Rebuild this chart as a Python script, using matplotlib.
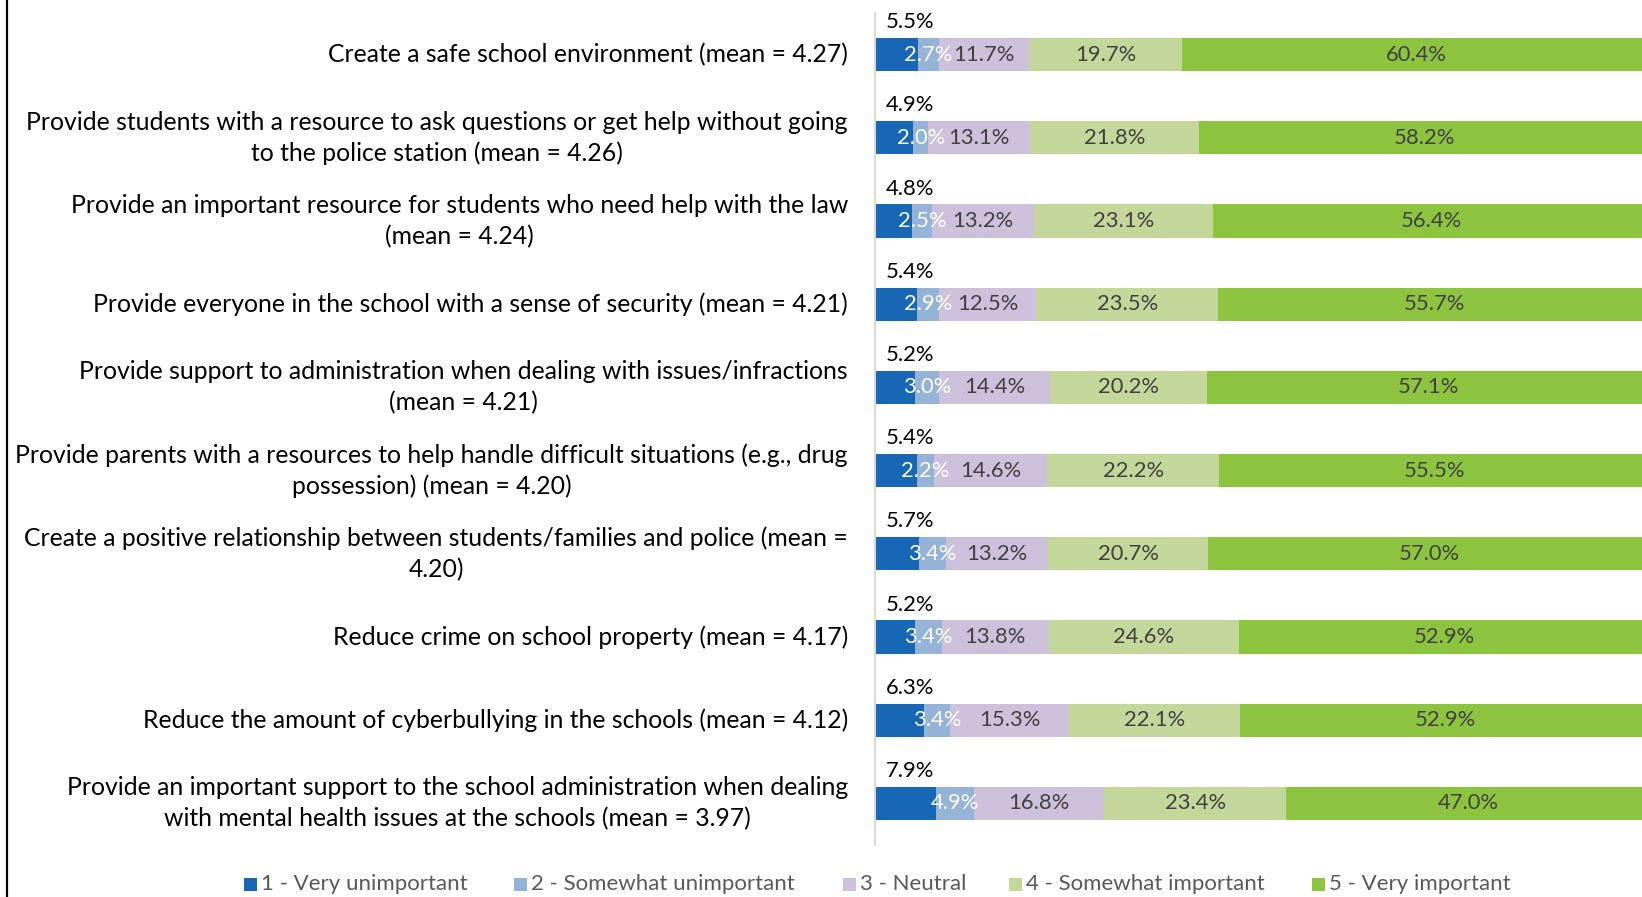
import matplotlib
matplotlib.use("Agg")
import matplotlib.pyplot as plt
from matplotlib.patches import Rectangle
from matplotlib.lines import Line2D

plt.rcParams['font.family'] = ['Lato', 'DejaVu Sans']

categories = [
    "Create a safe school environment (mean = 4.27)",
    "Provide students with a resource to ask questions or get help without going\nto the police station (mean = 4.26)",
    "Provide an important resource for students who need help with the law\n(mean = 4.24)",
    "Provide everyone in the school with a sense of security (mean = 4.21)",
    "Provide support to administration when dealing with issues/infractions\n(mean = 4.21)",
    "Provide parents with a resources to help handle difficult situations (e.g., drug\npossession) (mean = 4.20)",
    "Create a positive relationship between students/families and police (mean =\n4.20)",
    "Reduce crime on school property (mean = 4.17)",
    "Reduce the amount of cyberbullying in the schools (mean = 4.12)",
    "Provide an important support to the school administration when dealing\nwith mental health issues at the schools (mean = 3.97)",
]

very_unimportant = [5.5, 4.9, 4.8, 5.4, 5.2, 5.4, 5.7, 5.2, 6.3, 7.9]
somewhat_unimportant = [2.7, 2.0, 2.5, 2.9, 3.0, 2.2, 3.4, 3.4, 3.4, 4.9]
neutral = [11.7, 13.1, 13.2, 12.5, 14.4, 14.6, 13.2, 13.8, 15.3, 16.8]
somewhat_important = [19.7, 21.8, 23.1, 23.5, 20.2, 22.2, 20.7, 24.6, 22.1, 23.4]
very_important = [60.4, 58.2, 56.4, 55.7, 57.1, 55.5, 57.0, 52.9, 52.9, 47.0]

series_names = ["1 - Very unimportant", "2 - Somewhat unimportant", "3 - Neutral",
                "4 - Somewhat important", "5 - Very important"]
series = [very_unimportant, somewhat_unimportant, neutral, somewhat_important, very_important]
colors = ["#1767B4", "#95B3D7", "#CCC0DA", "#C4D79B", "#8CC43F"]

W, H = 1642, 897
fig = plt.figure(figsize=(W / 100, H / 100), dpi=100)
ax_left, ax_right, ax_top, ax_bottom = 875, 1642, 13, 845
ax = fig.add_axes([ax_left / W, 1 - ax_bottom / H, (ax_right - ax_left) / W, (ax_bottom - ax_top) / H])

n = len(categories)
ypos = list(range(n))
fs_cat = 17.8
fs_val = 15.8
fs_leg = 16

left = [0.0] * n
for idx, (vals, col) in enumerate(zip(series, colors)):
    ax.barh(ypos, vals, left=left, height=0.4, color=col, edgecolor="none")
    for i, v in enumerate(vals):
        label = f"{v:.1f}%"
        if idx == 0:
            ax.text(1.4, i - 0.39, label, ha="left", va="center", fontsize=fs_val, color="#000000")
        else:
            tc = "#FFFFFF" if idx == 1 else "#404040"
            ax.text(left[i] + v / 2, i, label, ha="center", va="center", fontsize=fs_val, color=tc)
    left = [l + v for l, v in zip(left, vals)]

ax.set_xlim(0, 98.97)
ax.set_ylim(n - 0.5, -0.5)
ax.set_yticks(ypos)
ax.set_yticklabels([])
ax.tick_params(axis="y", length=0)
ax.set_xticks([])

# category labels, right-aligned next to the axis
for i, cat in enumerate(categories):
    ax.annotate(cat, xy=(0, i), xycoords=("axes fraction", "data"),
                xytext=(-19.5, 0), textcoords="offset points",
                ha="right", va="center", multialignment="center", linespacing=1.4,
                fontsize=fs_cat, color="#000000", annotation_clip=False)

for s in ["top", "right", "bottom"]:
    ax.spines[s].set_visible(False)
ax.spines["left"].set_color("#D9D9D9")
ax.spines["left"].set_linewidth(1.5)

# legend row along the bottom
legend_x = [244, 514, 843, 1009, 1312]
legend_y = 884
sq = 13
for x, name, col in zip(legend_x, series_names, colors):
    fig.patches.append(Rectangle((x / W, (H - legend_y - sq / 2) / H), sq / W, sq / H,
                                 transform=fig.transFigure, facecolor=col, edgecolor="none"))
    fig.text((x + sq + 4) / W, 1 - legend_y / H, name, ha="left", va="center",
             fontsize=fs_leg, color="#595959")

# frame edge on the left
fig.add_artist(Line2D([7 / W, 7 / W], [0, 1], transform=fig.transFigure, color="#000000", lw=1.6))

fig.savefig("out.png", dpi=100)
